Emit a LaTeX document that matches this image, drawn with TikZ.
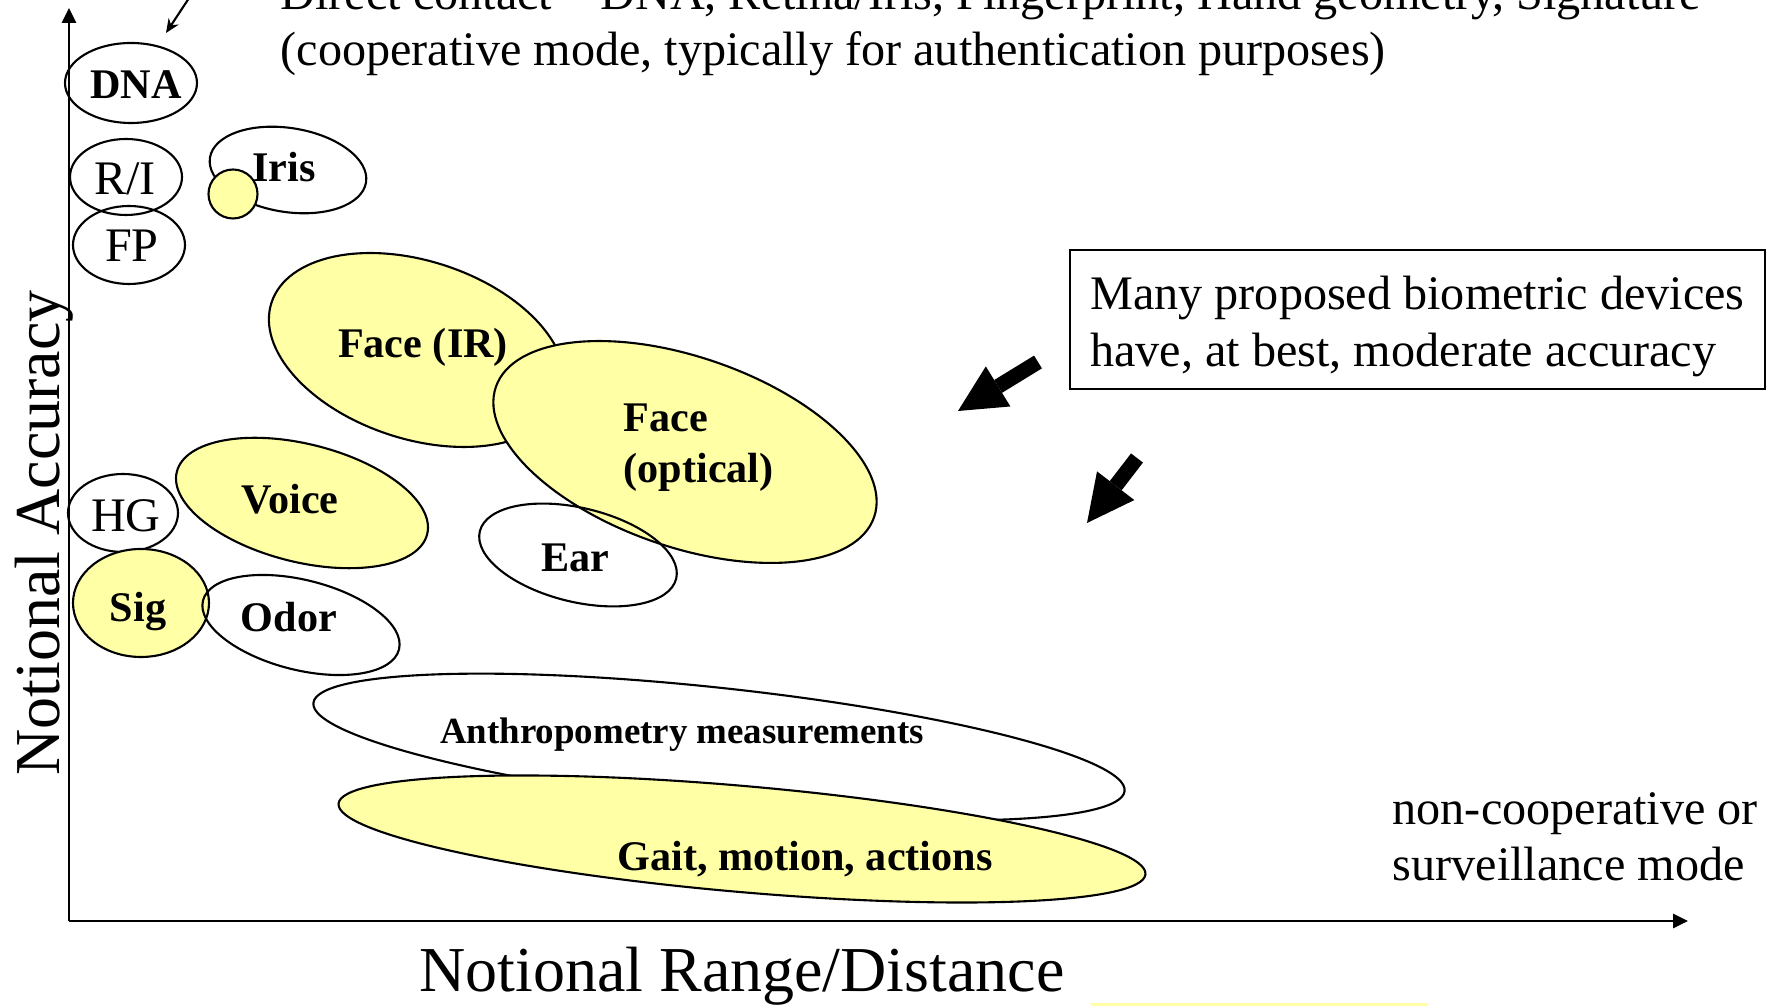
\documentclass[tikz,border=0pt]{standalone}
\usepackage{fontspec}
\setmainfont{Liberation Serif}
\usetikzlibrary{arrows.meta}
\definecolor{paleyellow}{RGB}{255,255,165}

\begin{document}
\begin{tikzpicture}[x=0.01cm,y=0.01cm,
    blob/.style={draw,line width=0.6pt},
    yblob/.style={blob,fill=paleyellow},
    txt/.style={font=\fontsize{13.7}{16.2}\selectfont},
    lbl/.style={font=\fontsize{12}{14.5}\selectfont\bfseries},
    big/.style={font=\fontsize{18.2}{21}\selectfont},
    axis/.style={line width=0.8pt,-{Triangle[length=1.5mm,width=1.4mm]}},
    fat/.style={line width=0.15cm,-{Triangle[length=0.47cm,width=0.47cm,line width=0pt]}}]
  \useasboundingbox (0,0) rectangle (1772,1006);
  \clip (0,0) rectangle (1772,1006);

  \fill[paleyellow] (1091,-5) rectangle (1428,3);

  \coordinate (o) at (69,85);
  \coordinate (ytop) at (69,998);
  \coordinate (xend) at (1688,85);
  \draw[axis] (o) -- (ytop);
  \draw[axis] (o) -- (xend);

  \draw[blob] (131,923) ellipse [x radius=66,y radius=40];
  \draw[blob] (126,829) ellipse [x radius=56,y radius=38];
  \draw[blob] (129,761) ellipse [x radius=56,y radius=39];
  \draw[blob,rotate around={-9:(288,836)}] (288,836) ellipse [x radius=79,y radius=42];
  \draw[yblob] (233,812) circle [radius=24.5];

  \draw[blob] (123,493) ellipse [x radius=55,y radius=39];
  \draw[yblob] (141,403) ellipse [x radius=68,y radius=54];
  \draw[yblob,rotate around={-14:(302,503)}] (302,503) ellipse [x radius=129,y radius=59];
  \draw[blob,rotate around={-14:(301,381)}] (301,381) ellipse [x radius=101,y radius=45];

  \draw[yblob,rotate around={-18:(417,656)}] (417,656) ellipse [x radius=153,y radius=89];
  \draw[yblob,rotate around={-19:(685,554)}] (685,554) ellipse [x radius=200,y radius=95];
  \draw[blob,rotate around={-13.5:(578,451)}] (578,451) ellipse [x radius=101,y radius=47];

  \draw[blob,fill=white,rotate around={-6.2:(719,259)}] (719,259) ellipse [x radius=408,y radius=59];
  \draw[yblob,rotate around={-5:(742,167)}] (742,167) ellipse [x radius=405,y radius=53];

  \node[lbl,anchor=base] (dna) at (136,907) {DNA};
  \node[txt,anchor=base] (ri) at (125,811) {R/I};
  \node[txt,anchor=base] (fp) at (132,744) {FP};
  \node[lbl,anchor=base] (iris) at (284,824) {Iris};
  \node[txt,anchor=base] (hg) at (126,474) {HG};
  \node[lbl,anchor=base] (voice) at (290,492) {Voice};
  \node[lbl,anchor=base] (sig) at (138,384) {Sig};
  \node[lbl,anchor=base] (odor) at (289,374) {Odor};
  \node[lbl,anchor=base] (ear) at (575,434) {Ear};
  \node[lbl,anchor=base] (faceir) at (423,648) {Face (IR)};
  \node[lbl,anchor=base west,align=left,inner sep=0pt] (faceopt) at (623,523) {Face\\(optical)};
  \node[lbl,font=\fontsize{10.5}{12}\selectfont\bfseries,anchor=base] (anthro) at (682,262) {Anthropometry measurements};
  \node[lbl,anchor=base] (gait) at (805,135) {Gait, motion, actions};

  \node[txt,anchor=base west,align=left,inner sep=0pt] (coop) at (280,940)
    {Direct contact -- DNA, Retina/Iris, Fingerprint, Hand geometry, Signature\\
     (cooperative mode, typically for authentication purposes)};
  \coordinate (dnaarrow) at (197,1020);
  \coordinate (dnatip) at (166,973);
  \draw[line width=0.6pt,-{Stealth[length=1.4mm,width=1.2mm]}] (dnaarrow) -- (dnatip);

  \node[txt,draw,line width=0.7pt,align=left,minimum width=6.95cm,minimum height=1.35cm] (note)
    at (1417.5,686.5) {\rule{0pt}{1em}Many proposed biometric devices\\have, at best, moderate accuracy};
  \coordinate (a1) at (1038,644);
  \coordinate (a1tip) at (958,595);
  \coordinate (a2) at (1137,548);
  \coordinate (a2tip) at (1087,483);
  \draw[fat] (a1) -- (a1tip);
  \draw[fat] (a2) -- (a2tip);

  \node[txt,anchor=base west,align=left,inner sep=0pt] (noncoop) at (1392,125)
    {non-cooperative or\\surveillance mode};

  \node[big,anchor=base] (xlab) at (742,14) {Notional Range/Distance};
  \node[big,anchor=base,rotate=90] (ylab) at (59,473) {Notional Accuracy};
\end{tikzpicture}
\end{document}
